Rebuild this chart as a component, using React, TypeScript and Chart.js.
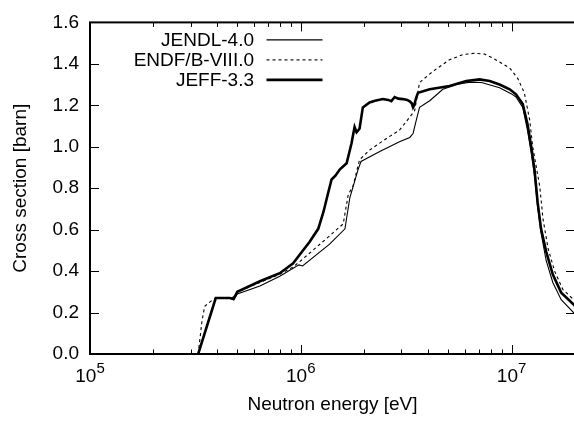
import React, { useEffect, useRef } from "react";
import { Chart, registerables } from "chart.js";

Chart.register(...registerables);

// ---------------- data ----------------
const seriesLabels = ["JENDL-4.0", "ENDF/B-VIII.0", "JEFF-3.3"];

const jendlEnergy = [3.26e5, 3.95e5, 4.6e5, 4.8e5, 5.0e5, 6.4e5, 7.95e5, 9.2e5, 9.8e5, 1.02e6, 1.37e6, 1.62e6, 1.71e6, 1.87e6, 1.93e6, 2.37e6, 2.94e6, 3.29e6, 3.41e6, 3.53e6, 3.66e6, 4.09e6, 4.72e6, 5.5e6, 6.33e6, 7.2e6, 8.77e6, 1.0e7, 1.05e7, 1.13e7, 1.19e7, 1.24e7, 1.285e7, 1.33e7, 1.38e7, 1.46e7, 1.57e7, 1.72e7, 2.0e7];
const jendlXS = [0, 0.27, 0.27, 0.262, 0.29, 0.328, 0.375, 0.414, 0.43, 0.425, 0.53, 0.604, 0.755, 0.89, 0.929, 0.977, 1.024, 1.045, 1.064, 1.127, 1.19, 1.222, 1.277, 1.3, 1.312, 1.31, 1.285, 1.255, 1.24, 1.19, 1.08, 0.97, 0.86, 0.71, 0.585, 0.45, 0.345, 0.262, 0.193];

const endfEnergy = [3.26e5, 3.4e5, 3.5e5, 3.75e5, 3.95e5, 4.6e5, 4.8e5, 5.0e5, 6.4e5, 7.95e5, 9.2e5, 1.0e6, 1.37e6, 1.59e6, 1.68e6, 1.77e6, 1.9e6, 2.12e6, 2.55e6, 2.94e6, 3.29e6, 3.47e6, 3.66e6, 4.24e6, 5.08e6, 5.9e6, 6.68e6, 7.45e6, 8.15e6, 9.8e6, 1.07e7, 1.15e7, 1.22e7, 1.26e7, 1.36e7, 1.41e7, 1.49e7, 1.6e7, 1.75e7, 2.0e7];
const endfXS = [0, 0.16, 0.23, 0.255, 0.27, 0.27, 0.275, 0.3, 0.345, 0.385, 0.42, 0.45, 0.57, 0.628, 0.77, 0.81, 0.937, 0.984, 1.04, 1.08, 1.143, 1.174, 1.31, 1.364, 1.42, 1.445, 1.451, 1.447, 1.428, 1.38, 1.33, 1.26, 1.127, 1.0, 0.81, 0.652, 0.51, 0.4, 0.312, 0.256];

const jeffEnergy = [3.26e5, 3.95e5, 4.6e5, 4.8e5, 5.0e5, 6.4e5, 7.95e5, 9.2e5, 1.0e6, 1.1e6, 1.21e6, 1.28e6, 1.35e6, 1.4e6, 1.46e6, 1.53e6, 1.65e6, 1.74e6, 1.8e6, 1.84e6, 1.9e6, 1.97e6, 2.12e6, 2.25e6, 2.45e6, 2.6e6, 2.69e6, 2.79e6, 2.9e6, 3.05e6, 3.2e6, 3.3e6, 3.36e6, 3.41e6, 3.45e6, 3.53e6, 3.6e6, 4.09e6, 5.08e6, 6.1e6, 7.05e6, 7.87e6, 8.77e6, 9.8e6, 1.05e7, 1.13e7, 1.19e7, 1.24e7, 1.285e7, 1.33e7, 1.38e7, 1.46e7, 1.57e7, 1.72e7, 2.0e7];
const jeffXS = [0, 0.27, 0.27, 0.265, 0.3, 0.351, 0.39, 0.438, 0.486, 0.54, 0.604, 0.684, 0.779, 0.842, 0.86, 0.89, 0.92, 1.016, 1.095, 1.07, 1.087, 1.19, 1.214, 1.222, 1.23, 1.226, 1.22, 1.24, 1.232, 1.23, 1.226, 1.218, 1.21, 1.19, 1.2, 1.237, 1.26, 1.277, 1.293, 1.317, 1.325, 1.317, 1.3, 1.277, 1.253, 1.206, 1.11, 1.0, 0.89, 0.73, 0.604, 0.494, 0.383, 0.296, 0.233];

const xMajorExponents = [5, 6, 7];
const xMinorMantissas = [2, 3, 4, 5, 6, 7, 8, 9];
const yTickValues = [0, 0.2, 0.4, 0.6, 0.8, 1.0, 1.2, 1.4, 1.6];

const X_MIN = 1e5;
const X_MAX = 2e7;
const Y_MIN = 0;
const Y_MAX = 1.6;

const xTitle = "Neutron energy [eV]";
const yTitle = "Cross section [barn]";

// ---------------- styling ----------------
const FONT = "'Liberation Sans', Arial, Helvetica, sans-serif";
const FONT_SIZE = 19;
const SUP_SIZE = 15;

const toPoints = (xs: number[], ys: number[]) => xs.map((x, i) => ({ x, y: ys[i] }));

const frameAndLegend = {
  id: "gnuplotFrame",
  afterDatasetsDraw(chart: any) {
    const { ctx, chartArea: a, scales } = chart;
    const xs = scales.x;
    const ys = scales.y;
    ctx.save();
    ctx.strokeStyle = "#000";
    ctx.fillStyle = "#000";

    // tick marks (inside, on all four sides)
    const major = 9;
    const minor = 4.5;
    ctx.lineWidth = 1;
    ctx.beginPath();
    for (const e of xMajorExponents) {
      const base = Math.pow(10, e);
      if (base >= X_MIN && base < X_MAX) {
        const px = Math.round(xs.getPixelForValue(base)) + 0.5;
        ctx.moveTo(px, a.bottom); ctx.lineTo(px, a.bottom - major);
        ctx.moveTo(px, a.top); ctx.lineTo(px, a.top + major);
      }
      for (const m of xMinorMantissas) {
        const v = m * base;
        if (v <= X_MIN || v >= X_MAX) continue;
        const px = Math.round(xs.getPixelForValue(v)) + 0.5;
        ctx.moveTo(px, a.bottom); ctx.lineTo(px, a.bottom - minor);
        ctx.moveTo(px, a.top); ctx.lineTo(px, a.top + minor);
      }
    }
    for (const v of yTickValues) {
      if (v <= Y_MIN || v >= Y_MAX) continue;
      const py = Math.round(ys.getPixelForValue(v)) + 0.5;
      ctx.moveTo(a.left, py); ctx.lineTo(a.left + major, py);
      ctx.moveTo(a.right, py); ctx.lineTo(a.right - major, py);
    }
    ctx.stroke();

    // frame
    ctx.lineWidth = 2;
    ctx.strokeRect(a.left, a.top, a.right - a.left, a.bottom - a.top);

    // x tick labels 10^n
    ctx.textAlign = "left";
    ctx.textBaseline = "alphabetic";
    for (const e of xMajorExponents) {
      const px = xs.getPixelForValue(Math.pow(10, e));
      ctx.font = `${FONT_SIZE}px ${FONT}`;
      const w1 = ctx.measureText("10").width;
      ctx.font = `${SUP_SIZE}px ${FONT}`;
      const w2 = ctx.measureText(String(e)).width;
      const x0 = px - (w1 + w2) / 2;
      ctx.font = `${FONT_SIZE}px ${FONT}`;
      ctx.fillText("10", x0, a.bottom + 27.5);
      ctx.font = `${SUP_SIZE}px ${FONT}`;
      ctx.fillText(String(e), x0 + w1, a.bottom + 19);
    }

    // legend
    ctx.font = `${FONT_SIZE}px ${FONT}`;
    ctx.textAlign = "right";
    chart.data.datasets.forEach((ds: any, i: number) => {
      const cy = a.top + 17 + i * 20;
      ctx.fillText(ds.label, 254, cy + 6.8);
      ctx.save();
      ctx.lineWidth = ds.borderWidth;
      ctx.setLineDash(ds.borderDash || []);
      ctx.beginPath();
      ctx.moveTo(266.5, cy + 0.5);
      ctx.lineTo(322.5, cy + 0.5);
      ctx.stroke();
      ctx.restore();
    });

    ctx.restore();
  },
};

export default function App() {
  const ref = useRef<HTMLCanvasElement | null>(null);

  useEffect(() => {
    if (!ref.current) return;
    const chart = new Chart(ref.current, {
      type: "line",
      data: {
        datasets: [
          {
            label: seriesLabels[0],
            data: toPoints(jendlEnergy, jendlXS),
            borderColor: "#000",
            borderWidth: 1.1,
            pointRadius: 0,
            tension: 0,
            fill: false,
          },
          {
            label: seriesLabels[1],
            data: toPoints(endfEnergy, endfXS),
            borderColor: "#000",
            borderWidth: 1.1,
            borderDash: [3, 3],
            pointRadius: 0,
            tension: 0,
            fill: false,
          },
          {
            label: seriesLabels[2],
            data: toPoints(jeffEnergy, jeffXS),
            borderColor: "#000",
            borderWidth: 2.6,
            pointRadius: 0,
            tension: 0,
            fill: false,
          },
        ],
      },
      options: {
        animation: false,
        responsive: false,
        devicePixelRatio: 1,
        layout: { padding: { top: 18, left: 0, right: 0, bottom: 0 } },
        plugins: {
          legend: { display: false },
          tooltip: { enabled: false },
        },
        scales: {
          x: {
            type: "logarithmic",
            min: X_MIN,
            max: X_MAX,
            grid: { display: false, drawTicks: false },
            border: { display: false },
            ticks: { display: false },
            title: {
              display: true,
              text: xTitle,
              color: "#000",
              font: { family: FONT, size: FONT_SIZE },
              padding: { top: 0, bottom: 7 },
            },
            afterFit: (s: any) => {
              s.height = 69;
            },
          },
          y: {
            type: "linear",
            min: Y_MIN,
            max: Y_MAX,
            grid: { display: false, drawTicks: false },
            border: { display: false },
            afterBuildTicks: (s: any) => {
              s.ticks = yTickValues.map((v) => ({ value: v }));
            },
            ticks: {
              color: "#000",
              font: { family: FONT, size: FONT_SIZE },
              padding: 11,
              callback: (v: any) => Number(v).toFixed(1),
            },
            title: {
              display: true,
              text: yTitle,
              color: "#000",
              font: { family: FONT, size: FONT_SIZE },
              padding: { top: 9, bottom: 0 },
            },
            afterFit: (s: any) => {
              s.width = 90;
            },
          },
        },
      },
      plugins: [frameAndLegend],
    });
    return () => chart.destroy();
  }, []);

  return (
    <div
      style={{
        position: "fixed",
        left: 0,
        top: 0,
        width: 574,
        height: 423,
        overflow: "hidden",
        background: "#fff",
      }}
    >
      <canvas ref={ref} width={575} height={423} style={{ display: "block", width: 575, height: 423 }} />
    </div>
  );
}
